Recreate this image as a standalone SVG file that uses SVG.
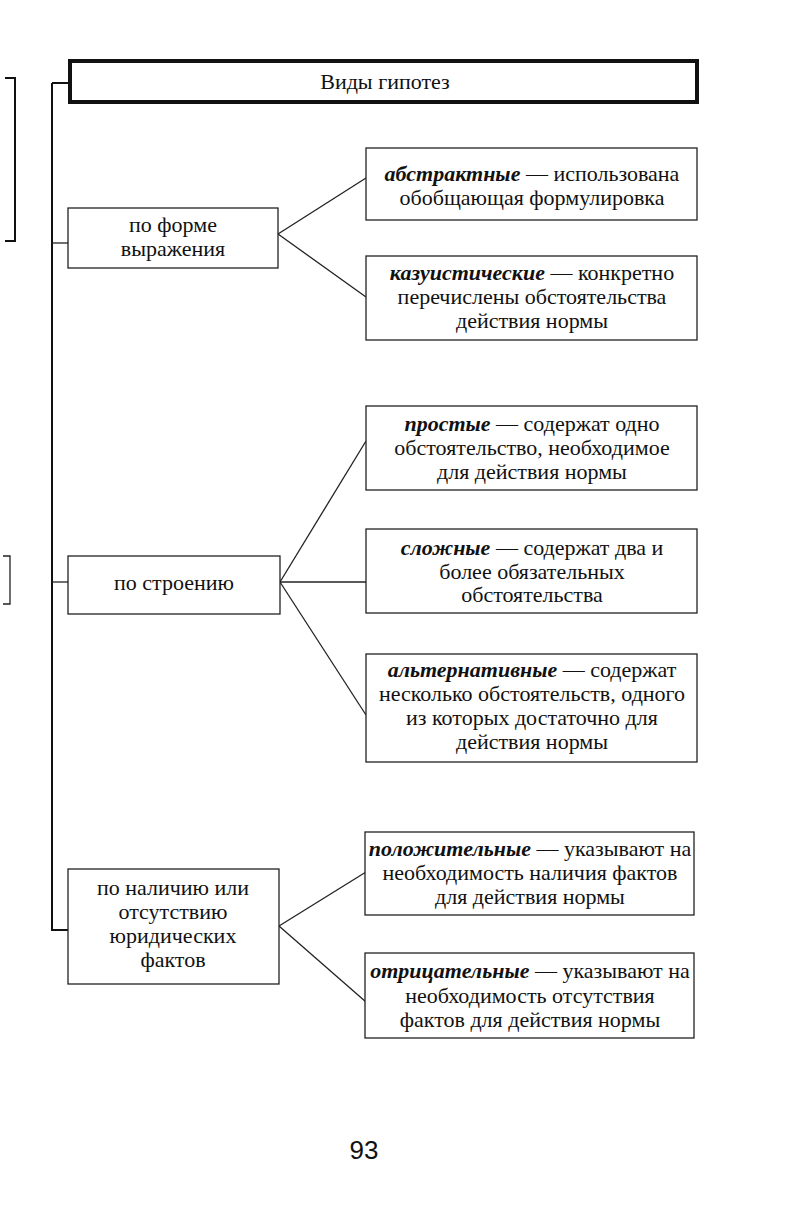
<svg xmlns="http://www.w3.org/2000/svg" width="792" height="1225" viewBox="0 0 792 1225">
<style>
.box{fill:#fff;stroke:#222;stroke-width:1.3}
.title{fill:#fff;stroke:#111;stroke-width:4}
.t{font-family:"Liberation Serif","Times New Roman",serif;font-size:22px;fill:#111;text-anchor:middle}
.b{font-weight:bold;font-style:italic}
.ln{stroke:#222;stroke-width:1.3;fill:none}
.sp{stroke:#111;stroke-width:2;fill:none}
</style>
<rect width="792" height="1225" fill="#fff"/>
<g id="marks">
<path class="sp" d="M5 78 H15 V241 H5"/>
<path class="ln" d="M3 556 H10 V604 H3"/>
</g>
<g id="connectors">
<path class="sp" d="M52 83 H70"/>
<path class="sp" d="M52 83 V930 H68"/>
<path class="ln" d="M52 243 H68"/>
<path class="ln" d="M52 582 H68"/>
<path class="ln" d="M278 234 L366 178"/>
<path class="ln" d="M278 234 L366 297"/>
<path class="ln" d="M280 582 L366 441"/>
<path class="ln" d="M280 582 H366"/>
<path class="ln" d="M280 582 L366 715"/>
<path class="ln" d="M279 926 L366 872"/>
<path class="ln" d="M279 926 L366 1002"/>
</g>
<g id="title">
<rect class="title" x="70" y="61" width="627" height="41"/>
<text class="t" x="385" y="89">Виды гипотез</text>
</g>
<g id="form">
<rect class="box" x="68" y="208" width="210" height="60"/>
<text class="t" x="173" y="232">по форме</text>
<text class="t" x="173" y="256">выражения</text>
</g>
<g id="abstract">
<rect class="box" x="366" y="148" width="331" height="72"/>
<text class="t" x="532" y="181"><tspan class="b">абстрактные</tspan> — использована</text>
<text class="t" x="532" y="205">обобщающая формулировка</text>
</g>
<g id="casuistic">
<rect class="box" x="366" y="256" width="331" height="84"/>
<text class="t" x="532" y="280"><tspan class="b">казуистические</tspan> — конкретно</text>
<text class="t" x="532" y="304">перечислены обстоятельства</text>
<text class="t" x="532" y="328">действия нормы</text>
</g>
<g id="structure">
<rect class="box" x="68" y="556" width="212" height="58"/>
<text class="t" x="174" y="590">по строению</text>
</g>
<g id="simple">
<rect class="box" x="366" y="406" width="331" height="84"/>
<text class="t" x="532" y="431"><tspan class="b">простые</tspan> — содержат одно</text>
<text class="t" x="532" y="455">обстоятельство, необходимое</text>
<text class="t" x="532" y="479">для действия нормы</text>
</g>
<g id="complex">
<rect class="box" x="366" y="529" width="331" height="84"/>
<text class="t" x="532" y="555"><tspan class="b">сложные</tspan> — содержат два и</text>
<text class="t" x="532" y="579">более обязательных</text>
<text class="t" x="532" y="602">обстоятельства</text>
</g>
<g id="alternative">
<rect class="box" x="366" y="654" width="331" height="108"/>
<text class="t" x="532" y="677"><tspan class="b">альтернативные</tspan> — содержат</text>
<text class="t" x="532" y="701">несколько обстоятельств, одного</text>
<text class="t" x="532" y="725">из которых достаточно для</text>
<text class="t" x="532" y="749">действия нормы</text>
</g>
<g id="facts">
<rect class="box" x="68" y="869" width="211" height="115"/>
<text class="t" x="173" y="895">по наличию или</text>
<text class="t" x="173" y="919">отсутствию</text>
<text class="t" x="173" y="943">юридических</text>
<text class="t" x="173" y="967">фактов</text>
</g>
<g id="positive">
<rect class="box" x="365" y="832" width="329" height="83"/>
<text class="t" x="530" y="856"><tspan class="b">положительные</tspan> — указывают на</text>
<text class="t" x="530" y="880">необходимость наличия фактов</text>
<text class="t" x="530" y="904">для действия нормы</text>
</g>
<g id="negative">
<rect class="box" x="365" y="953" width="329" height="85"/>
<text class="t" x="530" y="978"><tspan class="b">отрицательные</tspan> — указывают на</text>
<text class="t" x="530" y="1003">необходимость отсутствия</text>
<text class="t" x="530" y="1027">фактов для действия нормы</text>
</g>
<text x="364" y="1159" font-family="Liberation Sans,Arial,sans-serif" font-size="26" text-anchor="middle" fill="#111">93</text>
</svg>
